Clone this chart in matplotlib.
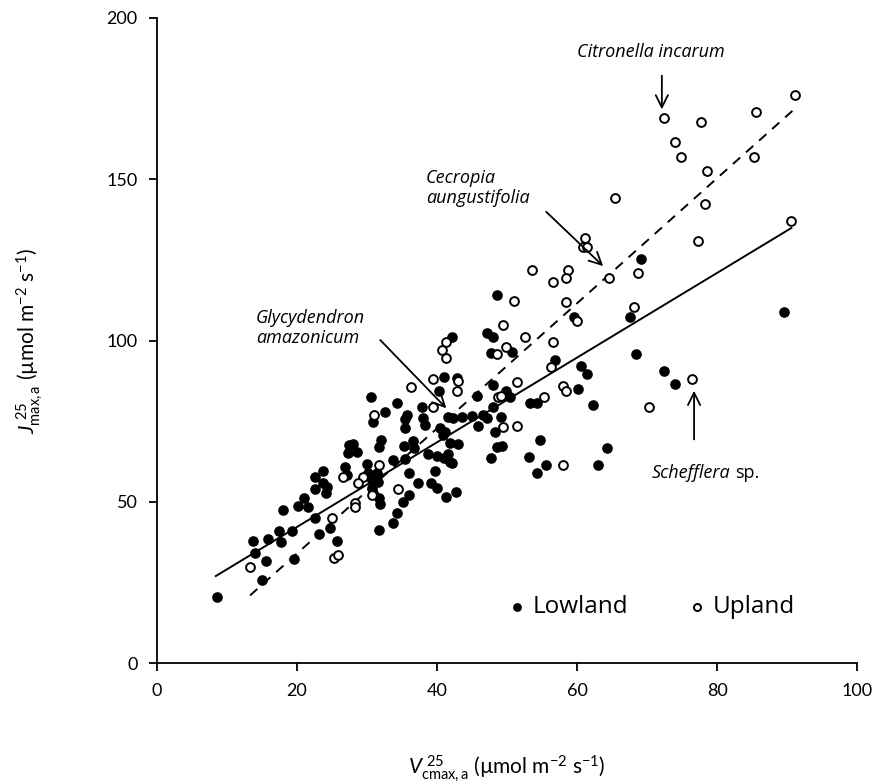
import matplotlib
matplotlib.use('Agg')
import matplotlib.pyplot as plt
import numpy as np

plt.rcParams['font.family'] = ['Lato', 'DejaVu Sans']
plt.rcParams['mathtext.fontset'] = 'custom'
plt.rcParams['mathtext.rm'] = 'Lato'
plt.rcParams['mathtext.it'] = 'Lato:italic'

# Lowland (filled) points: Vcmax,a25 vs Jmax,a25
low_x = [8.5, 15, 15.6, 14, 13.7, 15.9, 17.7, 17.4, 19.3, 19.6, 18, 20.1, 21, 21.6,
         22.6, 23.7, 22.6, 23.7, 24.3, 24.1, 22.6, 23.1, 24.7, 25.7, 26.9, 27.3, 27.4,
         47.1, 48, 42.1, 47.7, 50.7, 41, 42.9, 40.3, 48, 45.7, 49.9, 50.4, 53.3, 54.3,
         30.6, 34.3, 32.6, 30.9, 37.9, 35.7, 35.4, 38, 38.3, 35.4, 41.6, 42.3, 43.6, 45,
         46.6, 47.1, 48, 49.1, 45.9, 48.3, 40.4, 41.1, 40.9, 36.6, 32, 31.7, 35.3, 36.7,
         41.9, 43, 48.6, 49.3, 47.7, 28, 28.6, 33.7, 35.4, 38.7, 40, 41.6, 41.9, 42.1,
         41, 30, 27.1, 30.1, 31.4, 30.7, 31.6, 30.7, 30.9, 36, 39.7, 37.3, 36, 39.1, 40,
         41.3, 42.7, 31.7, 31.9, 35.1, 34.3, 33.7, 31.7, 53.1, 48.5,
         69.1, 59.6, 67.6, 56.9, 60.6, 61.4, 68.4, 72.4, 74, 60.1, 62.3, 54.7, 64.3,
         55.6, 54.3, 63, 89.6]
low_y = [20.5, 25.7, 31.6, 34.1, 37.8, 38.4, 37.5, 40.9, 40.9, 32.2, 47.4, 48.7, 51.2, 48.4,
         57.7, 59.5, 54, 55.8, 54.6, 52.7, 45, 40, 41.9, 37.8, 60.8, 65.1, 67.6,
         102.3, 101.1, 101.1, 96.1, 96.4, 88.7, 88.4, 84.3, 86.2, 82.8, 84.3, 82.5, 80.6, 80.6,
         82.5, 80.6, 77.8, 74.7, 79.4, 76.9, 75.7, 76, 73.8, 72.9, 76.3, 76, 76.3, 76.6,
         76.9, 76, 79.4, 76.3, 73.5, 71.6, 72.9, 71.6, 70.7, 68.8, 69.1, 67, 67.3, 66.7,
         68.2, 67.9, 67, 67.3, 63.6, 67.9, 65.4, 62.9, 63.3, 64.8, 64.2, 64.8, 62.3, 62,
         63.6, 61.7, 58.3, 58.9, 58.9, 56.7, 56.1, 54.3, 52.7, 58.9, 59.5, 55.8, 52.1, 55.8, 54.3,
         51.5, 53, 51.2, 49.3, 49.9, 46.5, 43.4, 41.2, 63.9, 114,
         125.3, 107.3, 107.3, 94, 92, 89.6, 95.8, 90.5, 86.5, 85, 80, 69.1, 66.7,
         61.4, 58.9, 61.4, 108.8]

# Upland (open) points
up_x = [72.4, 77.7, 85.6, 91.1, 74, 74.9, 78.6, 85.3, 78.3, 65.4, 90.6, 77.3,
        61.1, 60.9, 61.4, 64.6, 68.7, 53.6, 58.7, 58.4, 56.6, 58.4, 60, 68.1, 56.6, 56.3,
        76.4, 58, 58.4, 55.3, 70.3, 58,
        51, 49.4, 52.6, 41.3, 40.7, 41.3, 49.9, 48.6, 43, 39.4, 36.3, 42.9, 51.4, 48.7,
        49.1, 31, 39.4, 49.4, 51.4, 31.7, 29.4, 28.7, 30.7, 34.4, 28.3, 28.3,
        13.3, 25, 25.3, 25.9, 26.6]
up_y = [169, 167.8, 170.9, 176.1, 161.5, 156.9, 152.6, 156.9, 142.3, 144.2, 137, 130.9,
        131.8, 129, 129, 119.4, 120.9, 121.9, 121.9, 119.4, 118.1, 111.9, 106, 110.4, 99.5, 91.8,
        88, 85.9, 84.3, 82.5, 79.4, 61.4,
        112.2, 104.8, 101.1, 99.5, 97, 94.6, 98, 95.8, 87.4, 88, 85.6, 84.3, 87.1, 82.5,
        82.8, 76.9, 79.4, 73.2, 73.5, 61.4, 57.7, 55.8, 52.1, 54, 49.6, 48.4,
        29.8, 45, 32.6, 33.5, 57.7]

# regression line end points
low_fit_x = [8.4, 90.6]
low_fit_y = [27.0, 134.9]
up_fit_x = [13.3, 90.9]
up_fit_y = [21.0, 171.5]

fig = plt.figure(figsize=(8.92, 7.82), dpi=100)
ax = fig.add_axes([0.176, 0.152, 0.785, 0.825])

ax.plot(low_fit_x, low_fit_y, color='black', lw=1.4)
ax.plot(up_fit_x, up_fit_y, color='black', lw=1.4, linestyle=(0, (5, 4)))

ax.scatter(low_x, low_y, s=44, c='black', edgecolors='black', linewidths=1.0,
           label='Lowland', zorder=3)
ax.scatter(up_x, up_y, s=40, facecolors='white', edgecolors='black', linewidths=1.4,
           label='Upland', zorder=3)

ax.set_xlim(0, 100)
ax.set_ylim(0, 200)
ax.set_xticks(np.arange(0, 101, 20))
ax.set_yticks(np.arange(0, 201, 50))
ax.spines['top'].set_visible(False)
ax.spines['right'].set_visible(False)
ax.spines['left'].set_linewidth(1.3)
ax.spines['bottom'].set_linewidth(1.3)
ax.tick_params(direction='out', length=6, width=1.3, labelsize=13, pad=8)

ax.set_xlabel(r'$V_{\rm cmax,a}^{\ 25}$ (µmol m$^{-2}$ s$^{-1}$)', fontsize=15, labelpad=39)
ax.set_ylabel(r'$J_{\rm max,a}^{\ 25}$ (µmol m$^{-2}$ s$^{-1}$)', fontsize=15, labelpad=44)

leg = ax.legend(loc='center left', bbox_to_anchor=(0.497, 0.087), ncol=2, frameon=False,
                prop={'family': 'Open Sans', 'size': 17.5}, markerscale=0.8,
                borderpad=0, borderaxespad=0,
                handletextpad=0.15, columnspacing=2.3, handlelength=1.0)

afont = {'family': 'Open Sans', 'style': 'italic', 'size': 13}
arr = dict(arrowstyle='->', color='black', lw=1.3, mutation_scale=22)

ax.text(81.1, 189.5, 'Citronella incarum', ha='right', va='center', **afont)
ax.annotate('', xy=(72.1, 170.8), xytext=(72.1, 183.0), arrowprops=arr)

ax.text(38.4, 147.4, 'Cecropia\naungustifolia', ha='left', va='center',
        linespacing=1.15, **afont)
ax.annotate('', xy=(64.0, 122.5), xytext=(55.3, 140.5), arrowprops=arr)

ax.text(14.1, 104.0, 'Glycydendron\namazonicum', ha='left', va='center',
        linespacing=1.15, **afont)
ax.annotate('', xy=(41.6, 78.4), xytext=(31.6, 100.8), arrowprops=arr)

t1 = ax.text(70.6, 59.0, 'Schefflera', ha='left', va='center', **afont)
ax.annotate('sp.', xy=(1.0, 0.5), xycoords=t1, xytext=(4, 0), textcoords='offset points',
            ha='left', va='center', family='Open Sans', size=13)
ax.annotate('', xy=(76.7, 85.3), xytext=(76.7, 68.5), arrowprops=arr)

fig.savefig('out.png', dpi=100)
